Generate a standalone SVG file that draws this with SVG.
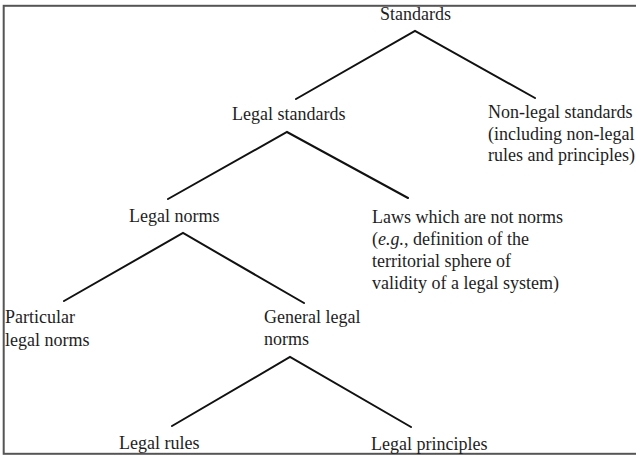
<svg xmlns="http://www.w3.org/2000/svg" width="636" height="455" viewBox="0 0 636 455">
<style>
text{font-family:"Liberation Serif","Times New Roman",serif;font-size:18px;fill:#1e1e1e}
.edge{stroke:#111;stroke-width:2;fill:none;stroke-linecap:round;stroke-linejoin:miter}
</style>
<rect x="0" y="0" width="636" height="455" fill="#fff"/>
<rect x="3.7" y="5.8" width="700" height="448" fill="none" stroke="#555" stroke-width="2"/>
<g id="connectors">
<polyline class="edge" points="296,99 415,31 535,98"/>
<polyline class="edge" points="168,199 287,132 408,198"/>
<polyline class="edge" points="64,301 183,233 304,303"/>
<polyline class="edge" points="172,426 290,357 411,427"/>
</g>
<g id="standards"><text x="380" y="20">Standards</text></g>
<g id="legal-standards"><text x="232" y="120">Legal standards</text></g>
<g id="non-legal-standards"><text x="488" y="118">Non-legal standards</text><text x="488" y="140">(including non-legal</text><text x="488" y="161">rules and principles)</text></g>
<g id="legal-norms"><text x="129" y="222">Legal norms</text></g>
<g id="laws-not-norms"><text x="372" y="223">Laws which are not norms</text><text x="372" y="245">(<tspan font-style="italic">e.g.</tspan>, definition of the</text><text x="372" y="267">territorial sphere of</text><text x="372" y="289">validity of a legal system)</text></g>
<g id="particular-legal-norms"><text x="5" y="323">Particular</text><text x="5" y="346">legal norms</text></g>
<g id="general-legal-norms"><text x="264" y="323">General legal</text><text x="264" y="345">norms</text></g>
<g id="legal-rules"><text x="119" y="449">Legal rules</text></g>
<g id="legal-principles"><text x="371" y="450">Legal principles</text></g>
</svg>
